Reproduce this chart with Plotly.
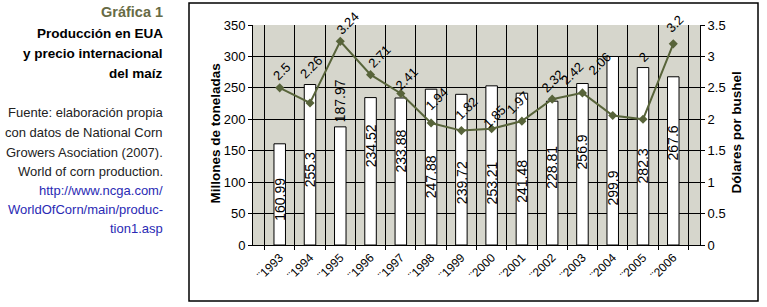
import plotly.graph_objects as go

years = ["1993", "1994", "1995", "1996", "1997", "1998", "1999", "2000",
         "2001", "2002", "2003", "2004", "2005", "2006"]
tick_labels = ["¨" + y for y in years]
production = [160.99, 255.3, 187.97, 234.52, 233.88, 247.88, 239.72, 253.21,
              241.48, 228.81, 256.9, 299.9, 282.3, 267.6]
price = [2.5, 2.26, 3.24, 2.71, 2.41, 1.94, 1.82, 1.85, 1.97, 2.32, 2.42, 2.06, 2.0, 3.2]
price_text = ["2.5", "2.26", "3.24", "2.71", "2.41", "1.94", "1.82", "1.85", "1.97",
              "2.32", "2.42", "2.06", "2", "3.2"]

# label placement (positions only)
bar_label_y = [73, 119, 229, 158, 150, 108, 99, 99, 102, 123, 148, 91, 125, 162]
price_dx = [2, 1, 7, 9, 6, 5, 5, 3, -4, 0, -10, -13, 0, 2]
price_dy = [16, 35, 18, 18, 15, 24, 22, 12, 19, 18, 19, 52, 62, 20]

W, H = 767, 307
L, R, T, B = 253, 700, 25, 245
FONT = "Liberation Sans, Arial, sans-serif"

def px(x):
    return (x - L) / (R - L)

def py(y):
    return (B - y) / (B - T)

fig = go.Figure()
fig.add_trace(go.Bar(
    x=tick_labels, y=production, width=0.38,
    marker=dict(color="white", line=dict(color="black", width=1)),
    showlegend=False, hoverinfo="x+y"))
fig.add_trace(go.Scatter(
    x=tick_labels, y=price, yaxis="y2", mode="lines+markers",
    line=dict(color="#58643a", width=2),
    marker=dict(symbol="diamond", size=7, color="#58643a"),
    showlegend=False))

ann = []
for i, x in enumerate(tick_labels):
    ann.append(dict(x=x, y=bar_label_y[i], xref="x", yref="y",
                    text=f"{production[i]:g}", textangle=-90, showarrow=False,
                    font=dict(family=FONT, size=14, color="black")))
    ann.append(dict(x=x, y=price[i], xref="x", yref="y2",
                    text=price_text[i], textangle=-45, showarrow=False,
                    xshift=price_dx[i], yshift=price_dy[i],
                    font=dict(family=FONT, size=13, color="black")))

# axis titles
ann.append(dict(x=px(205), y=py(134), xref="paper", yref="paper",
                text="<b>Millones de toneladas</b>", textangle=-90, showarrow=False,
                font=dict(family=FONT, size=13.5, color="black")))
ann.append(dict(x=px(745), y=py(133), xref="paper", yref="paper",
                text="<b>Dólares por bushel</b>", textangle=-90, showarrow=False,
                font=dict(family=FONT, size=13.5, color="black")))

# side text
side = [
    ("<b>Gráfica 1</b>", 12, "#676b45", 14.5),
    ("<b>Producción en EUA</b>", 33, "black", 13.5),
    ("<b>y precio internacional</b>", 53, "black", 13.5),
    ("<b>del maíz</b>", 73, "black", 13.5),
    ("Fuente: elaboración propia", 112, "#222222", 13),
    ("con datos de National Corn", 132, "#222222", 13),
    ("Growers Asociation (2007).", 152, "#222222", 13),
    ("World of corn production.", 171, "#222222", 13),
    ("http://www.ncga.com/", 190, "#2a2ab4", 13),
    ("WorldOfCorn/main/produc-", 209, "#2a2ab4", 13),
    ("tion1.asp", 228, "#2a2ab4", 13),
]
for txt, yy, col, sz in side:
    ann.append(dict(x=px(165), y=py(yy), xref="paper", yref="paper",
                    xanchor="right", yanchor="middle", text=txt, showarrow=False,
                    font=dict(family=FONT, size=sz, color=col)))

fig.update_layout(
    width=W, height=H,
    margin=dict(l=L, r=W - R, t=T, b=H - B, pad=0),
    paper_bgcolor="white", plot_bgcolor="#d6d6cc",
    font=dict(family=FONT, size=12, color="black"),
    xaxis=dict(type="category", tickson="boundaries", ticks="outside", ticklen=4,
               tickcolor="black", showgrid=True, gridcolor="black", gridwidth=1,
               showline=True, linecolor="black", linewidth=1, tickangle=-45,
               automargin=False,
               tickfont=dict(family=FONT, size=12, color="black")),
    yaxis=dict(range=[0, 350], dtick=50, ticks="outside", ticklen=4, tickcolor="black",
               showgrid=True, gridcolor="black", gridwidth=1, zeroline=False,
               showline=True, linecolor="black", linewidth=1, automargin=False,
               tickfont=dict(family=FONT, size=13, color="black")),
    yaxis2=dict(range=[0, 3.5], dtick=0.5, overlaying="y", side="right",
                ticks="outside", ticklen=4, tickcolor="black", showgrid=False,
                zeroline=False, showline=True, linecolor="black", linewidth=1,
                automargin=False,
                tickfont=dict(family=FONT, size=13, color="black")),
    annotations=ann,
    shapes=[dict(type="rect", xref="paper", yref="paper",
                 x0=px(189), x1=px(758), y0=py(301), y1=py(3),
                 line=dict(color="black", width=1.5), fillcolor="rgba(0,0,0,0)",
                 layer="below")],
)

fig.write_html("out.html", config=dict(displayModeBar=False),
               post_script="document.body.style.margin='0';document.body.style.overflow='hidden';")
